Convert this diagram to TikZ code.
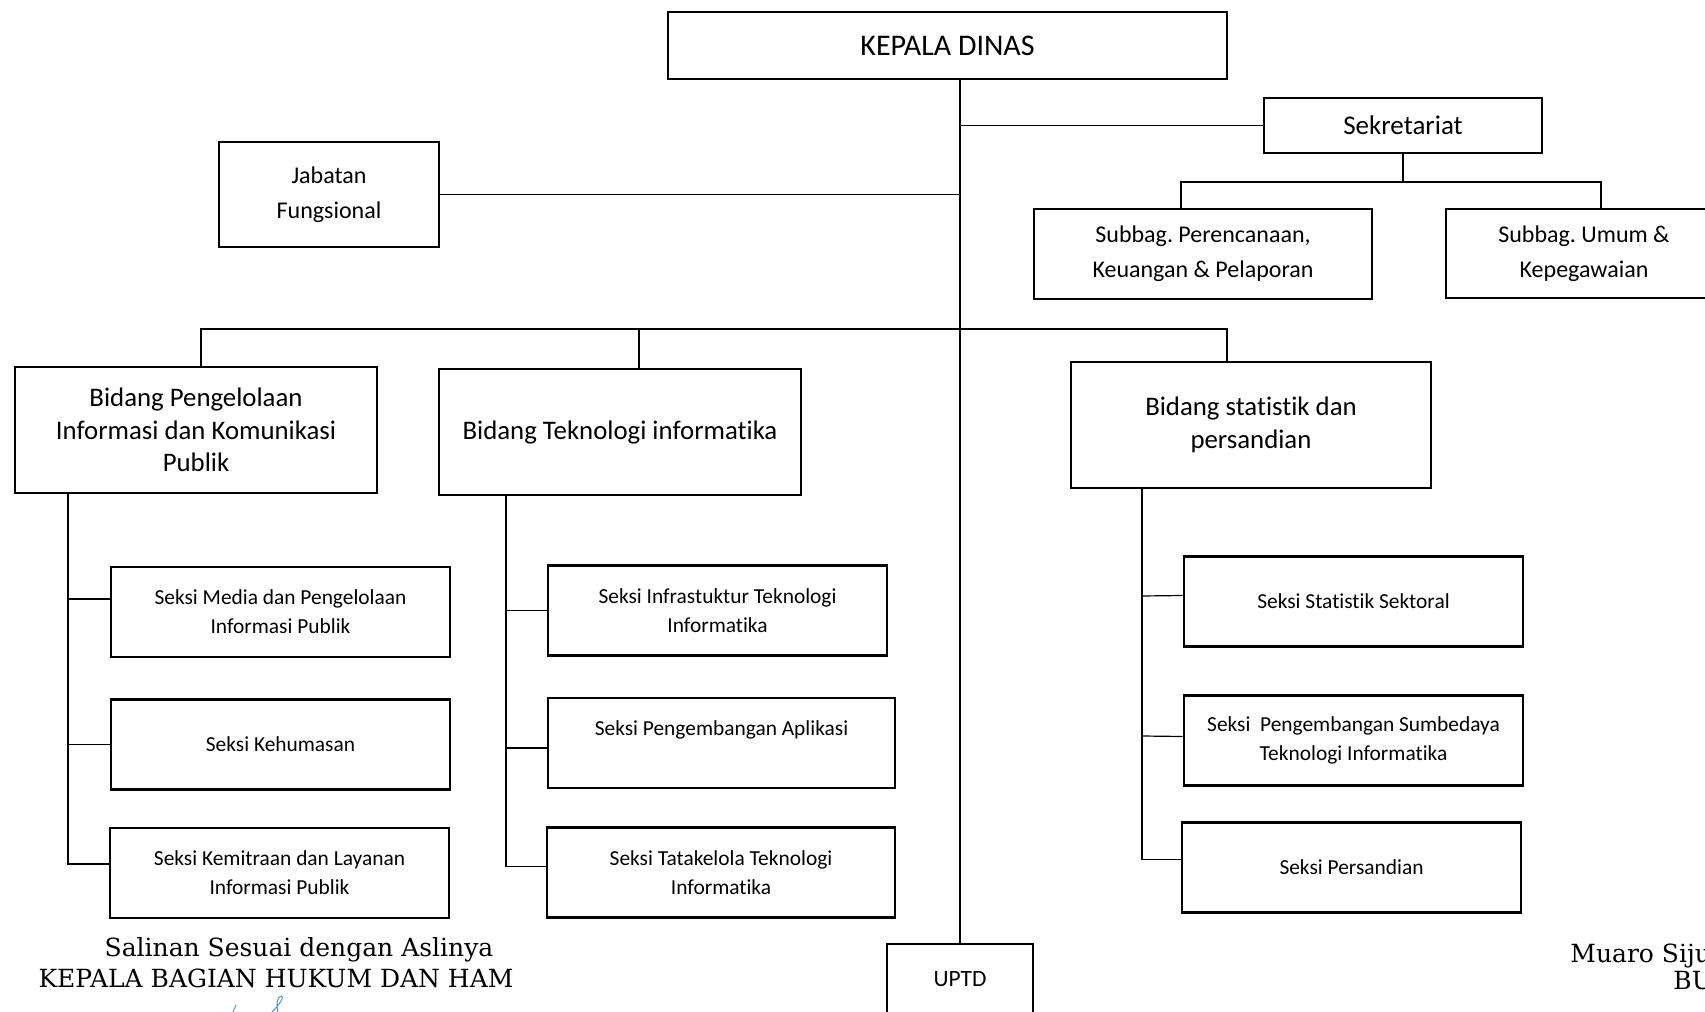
\documentclass[tikz,border=0pt]{standalone}
\usepackage{fontspec}
\setmainfont{Carlito}[Ligatures=NoCommon]
\newfontfamily\notefont{DejaVu Serif}
\definecolor{signblue}{RGB}{80,150,205}
\frenchspacing

\begin{document}
\begin{tikzpicture}[x=.5pt, y=-.5pt,
	box/.style={draw, line width=1.3pt, align=center, inner sep=2pt},
	bidang/.style={box, minimum width=181pt, minimum height=63pt, font=\fontsize{13.4}{16.3}\selectfont},
	seksi/.style={box, minimum width=169.5pt, minimum height=45pt, font=\fontsize{10.7}{14.5}\selectfont},
	note/.style={inner sep=0pt, font=\notefont\fontsize{12.5}{16}\selectfont},
	link/.style={line width=.6pt},
	sign/.style={signblue, line width=.5pt}]
	\useasboundingbox (0,0) rectangle (1705,1012);

	% pimpinan dan sekretariat
	\node[box, minimum width=279.5pt, minimum height=33.5pt, font=\fontsize{15}{18}\selectfont] (kepala) at (947.5,45.5) {KEPALA DINAS};
	\node[box, minimum width=139pt, minimum height=27.5pt, font=\fontsize{13.5}{16}\selectfont] (sekr) at (1403,125.5) {Sekretariat};
	\node[box, minimum width=110pt, minimum height=52.5pt, font=\fontsize{12}{17.4}\selectfont] (jab) at (329,194.5) {Jabatan\\Fungsional};
	\node[box, minimum width=169pt, minimum height=45pt, font=\fontsize{12}{17.4}\selectfont] (plan) at (1203,254) {Subbag. Perencanaan,\\Keuangan \& Pelaporan};
	\node[box, minimum width=138pt, minimum height=44.5pt, font=\fontsize{12}{17.4}\selectfont] (umum) at (1584,253.5) {Subbag. Umum \&\\Kepegawaian};

	% bidang
	\node[bidang] (pikp) at (196,430) {Bidang Pengelolaan\\Informasi dan Komunikasi\\Publik};
	\node[bidang] (ti) at (620,432) {Bidang Teknologi informatika};
	\node[bidang, minimum width=180pt] (stat) at (1251,425) {Bidang statistik dan\\persandian};

	% seksi
	\node[seksi] (media) at (280.5,612) {Seksi Media dan Pengelolaan\\Informasi Publik};
	\node[seksi] (humas) at (280.5,744.5) {Seksi Kehumasan};
	\node[seksi] (mitra) at (279.5,873) {Seksi Kemitraan dan Layanan\\Informasi Publik};
	\node[seksi] (infra) at (717.5,610.5) {Seksi Infrastuktur Teknologi\\Informatika};
	\node[seksi, minimum width=173.5pt] (aplik) at (721.5,743) {Seksi Pengembangan Aplikasi\\~};
	\node[seksi, minimum width=174pt] (tata) at (721,872.5) {Seksi Tatakelola Teknologi\\Informatika};
	\node[seksi] (sektor) at (1353.5,601.5) {Seksi Statistik Sektoral};
	\node[seksi] (sdm) at (1353.5,740.5) {Seksi~ Pengembangan Sumbedaya\\Teknologi Informatika};
	\node[seksi] (sandi) at (1351.5,867.5) {Seksi Persandian};

	\node[box, minimum width=73pt, minimum height=35pt, font=\fontsize{11.7}{14}\selectfont] (uptd) at (960,979) {UPTD};

	% garis komando
	\draw[link] (uptd.north |- kepala.south) -- (uptd.north);
	\draw[link] (jab.east) -- (jab.east -| uptd.north);
	\draw[link] (sekr.west) -- (sekr.west -| uptd.north);
	\coordinate (sekbus) at (1403,182);
	\draw[link] (sekr.south) -- (sekbus);
	\draw[link] ([xshift=-11pt]plan.north) |- (sekbus) -| ([xshift=8.5pt]umum.north);
	\coordinate (bus) at (957,329);
	\draw[link] ([xshift=2.5pt]pikp.north) |- (bus) -| ([xshift=-12pt]stat.north);
	\draw[link] ([xshift=9.5pt]ti.north) -- ([xshift=9.5pt]ti.north |- bus);

	% garis seksi
	\coordinate (spA) at (68,494);
	\coordinate (spB) at (506,495);
	\coordinate (spC) at (1142,488);
	\draw[link] (spA) |- ([yshift=4.5pt]mitra.west);
	\draw[link] (spA |- 0,599) -- ([yshift=6.5pt]media.west);
	\draw[link] (spA |- humas.west) -- (humas.west);
	\draw[link] (spB) |- ([yshift=3pt]tata.west);
	\draw[link] (spB |- infra.west) -- (infra.west);
	\draw[link] (spB |- 0,748) -- ([yshift=-2.5pt]aplik.west);
	\draw[link] (spC) |- ([yshift=4pt]sandi.west);
	\draw[link] (spC |- 0,596) -- ([yshift=3pt]sektor.west);
	\draw[link] (spC |- 0,736) -- ([yshift=2pt]sdm.west);

	% pengesahan
	\node[note, anchor=base] (salinan) at (299,956.5) {Salinan Sesuai dengan Aslinya};
	\node[note, anchor=base] (kabag) at (276,987) {KEPALA BAGIAN HUKUM DAN HAM};
	\node[note, anchor=base west] (muaro) at (1570,962) {Muaro Siju};
	\node[note, anchor=base west] (bupati) at (1673,989) {BU};
	\draw[sign] (233,1012) -- (236,1005);
	\draw[sign] (272,1012) .. controls (280,1004) and (285,996) .. (281,996) .. controls (277,997) and (276,1004) .. (278,1012);
\end{tikzpicture}
\end{document}
